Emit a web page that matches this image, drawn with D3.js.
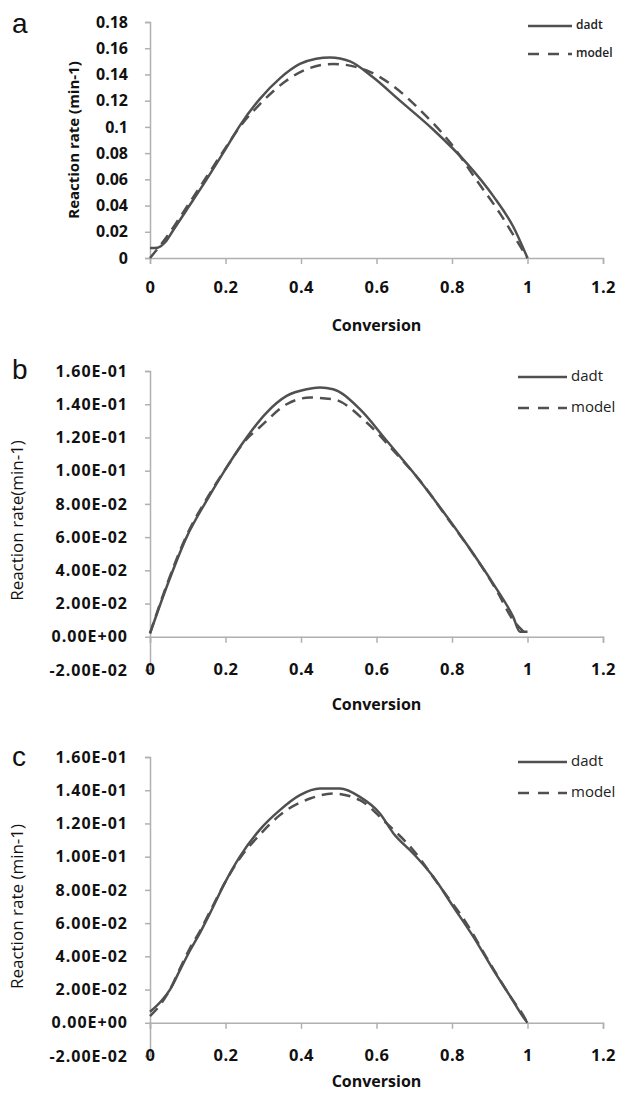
<!DOCTYPE html>
<html>
<head>
<meta charset="utf-8">
<script src="https://cdn.jsdelivr.net/npm/d3@7"></script>
<style>
  body { margin: 0; background: #fff; }
  svg { display: block; }
</style>
</head>
<body>
<div id="chart"></div>
<script>
// conversion values (x) and reaction rates (y)
var convA_dadt = [0, 0.02, 0.04, 0.061, 0.1, 0.15, 0.2, 0.238, 0.29, 0.344, 0.397, 0.44, 0.477, 0.53, 0.59, 0.662, 0.75, 0.84, 0.91, 0.962, 1.0];
var rateA_dadt = [0.0076, 0.0079, 0.012, 0.021, 0.038, 0.060, 0.083, 0.101, 0.121, 0.137, 0.148, 0.152, 0.153, 0.150, 0.138, 0.120, 0.098, 0.072, 0.047, 0.024, 0.0];
var convA_model = [0, 0.02, 0.044, 0.07, 0.1, 0.15, 0.2, 0.238, 0.29, 0.36, 0.415, 0.486, 0.574, 0.645, 0.715, 0.795, 0.866, 0.927, 0.97, 1.0];
var rateA_model = [0, 0.007, 0.016, 0.027, 0.040, 0.062, 0.084, 0.100, 0.117, 0.135, 0.144, 0.148, 0.143, 0.131, 0.113, 0.088, 0.059, 0.034, 0.014, 0.0];

var convB_dadt = [0, 0.044, 0.097, 0.15, 0.203, 0.256, 0.309, 0.362, 0.415, 0.45, 0.485, 0.556, 0.627, 0.697, 0.768, 0.838, 0.909, 0.962, 0.98, 1.0];
var rateB_dadt = [0.002, 0.030, 0.060, 0.082, 0.102, 0.120, 0.135, 0.145, 0.149, 0.150, 0.149, 0.137, 0.118, 0.099, 0.078, 0.056, 0.032, 0.012, 0.003, 0.003];
var convB_model = [0, 0.044, 0.097, 0.15, 0.203, 0.256, 0.29, 0.362, 0.424, 0.485, 0.574, 0.645, 0.715, 0.786, 0.856, 0.918, 0.962, 0.99];
var rateB_model = [0.002, 0.031, 0.061, 0.083, 0.102, 0.119, 0.126, 0.140, 0.144, 0.143, 0.129, 0.112, 0.094, 0.072, 0.050, 0.028, 0.010, 0.003];

var convC_dadt = [0, 0.031, 0.053, 0.08, 0.106, 0.132, 0.159, 0.2, 0.238, 0.29, 0.344, 0.397, 0.45, 0.503, 0.556, 0.609, 0.645, 0.697, 0.75, 0.803, 0.856, 0.909, 0.954, 0.99, 1.0];
var rateC_dadt = [0.0066, 0.0134, 0.020, 0.032, 0.0435, 0.054, 0.066, 0.085, 0.100, 0.116, 0.128, 0.137, 0.141, 0.141, 0.136, 0.126, 0.114, 0.102, 0.088, 0.070, 0.052, 0.032, 0.016, 0.003, 0.0];
var convC_model = [0, 0.031, 0.053, 0.08, 0.106, 0.132, 0.159, 0.2, 0.238, 0.29, 0.344, 0.424, 0.486, 0.556, 0.627, 0.697, 0.768, 0.838, 0.9, 0.954, 0.99, 1.0];
var rateC_model = [0.004, 0.012, 0.020, 0.033, 0.045, 0.055, 0.067, 0.085, 0.099, 0.113, 0.125, 0.135, 0.138, 0.134, 0.120, 0.104, 0.082, 0.060, 0.036, 0.016, 0.004, 0.0];

var xTicks = [0, 0.2, 0.4, 0.6, 0.8, 1, 1.2];
var yTicksA = [0, 0.02, 0.04, 0.06, 0.08, 0.1, 0.12, 0.14, 0.16, 0.18];
var yTicksBC = [-0.02, 0, 0.02, 0.04, 0.06, 0.08, 0.1, 0.12, 0.14, 0.16];
var seriesNames = ["dadt", "model"];

var width = 619;
var height = 1100;
var lineColor = "#505050";
var axisColor = "#b0b0b0";
var font = "'Open Sans', sans-serif";

var svg = d3.select("#chart").append("svg")
    .attr("width", width)
    .attr("height", height);

var zip = function (xs, ys) {
    return xs.map(function (x, i) { return [x, ys[i]]; });
};

var sciFormat = function (d) {
    return d3.format(".2e")(d).replace("e", "E").replace(/E([+-])(\d)$/, "E$10$2").replace("−", "-");
};

var panels = [
    {
        letter: "a", letterY: 33, top: 22, bottom: 258, yDomain: [0, 0.18], yTicks: yTicksA,
        yFormat: function (d) { return String(+d.toFixed(2)); }, ySpacing: 0,
        yTitle: "Reaction rate (min-1)", yTitleX: 75, yTitleBold: true, yTitleSize: 15,
        xLabelDy: 32, xTitleY: 327, legendY: 26, legendSmall: true,
        dadt: zip(convA_dadt, rateA_dadt), model: zip(convA_model, rateA_model)
    },
    {
        letter: "b", letterY: 379, top: 371, bottom: 670, yDomain: [-0.02, 0.16], yTicks: yTicksBC,
        yFormat: sciFormat, ySpacing: 1,
        yTitle: "Reaction rate(min-1)", yTitleX: 18, yTitleBold: false, yTitleSize: 17,
        xLabelDy: 36, xTitleY: 706, legendY: 377, legendSmall: false,
        dadt: zip(convB_dadt, rateB_dadt), model: zip(convB_model, rateB_model)
    },
    {
        letter: "c", letterY: 766, top: 757, bottom: 1056, yDomain: [-0.02, 0.16], yTicks: yTicksBC,
        yFormat: sciFormat, ySpacing: 1,
        yTitle: "Reaction rate (min-1)", yTitleX: 18, yTitleBold: false, yTitleSize: 17,
        xLabelDy: 36, xTitleY: 1083, legendY: 762, legendSmall: false,
        dadt: zip(convC_dadt, rateC_dadt), model: zip(convC_model, rateC_model)
    }
];

panels.forEach(function (p) {
    var g = svg.append("g");
    var x = d3.scaleLinear().domain([0, 1.2]).range([150, 603]);
    var y = d3.scaleLinear().domain(p.yDomain).range([p.bottom, p.top]);
    var y0 = y(0);

    // y axis (ticks on the left)
    var yAxis = g.append("g")
        .attr("transform", "translate(" + x(0) + ",0)")
        .call(d3.axisLeft(y).tickValues(p.yTicks).tickSize(5).tickPadding(17).tickFormat(p.yFormat));
    yAxis.select(".domain").attr("stroke", axisColor).attr("stroke-width", 1.5);
    yAxis.selectAll(".tick line").attr("stroke", axisColor).attr("stroke-width", 1.5);
    yAxis.selectAll(".tick text")
        .attr("font-family", font).attr("font-weight", "bold").attr("font-size", 16)
        .attr("letter-spacing", p.ySpacing).attr("fill", "#111");

    // x axis crossing at y = 0
    var xAxis = g.append("g")
        .attr("transform", "translate(0," + y0 + ")")
        .call(d3.axisBottom(x).tickValues(xTicks).tickSize(6).tickPadding(p.xLabelDy - 15).tickFormat(d3.format("")));
    xAxis.select(".domain").attr("stroke", axisColor).attr("stroke-width", 1.5);
    xAxis.selectAll(".tick line").attr("stroke", axisColor).attr("stroke-width", 1.5);
    xAxis.selectAll(".tick text")
        .attr("font-family", font).attr("font-weight", "bold").attr("font-size", 16.5)
        .attr("letter-spacing", 0.5).attr("fill", "#111");

    // curves
    var line = d3.line()
        .x(function (d) { return x(d[0]); })
        .y(function (d) { return y(d[1]); })
        .curve(d3.curveMonotoneX);
    g.append("path").datum(p.dadt)
        .attr("d", line).attr("fill", "none")
        .attr("stroke", lineColor).attr("stroke-width", 2.5);
    g.append("path").datum(p.model)
        .attr("d", line).attr("fill", "none")
        .attr("stroke", lineColor).attr("stroke-width", 2.5)
        .attr("stroke-dasharray", "11,7");

    // titles
    g.append("text")
        .attr("x", x(0.6)).attr("y", p.xTitleY)
        .attr("text-anchor", "middle").attr("dominant-baseline", "middle")
        .attr("font-family", font).attr("font-weight", "bold").attr("font-size", 16).attr("fill", "#111")
        .text("Conversion");
    g.append("text")
        .attr("transform", "translate(" + p.yTitleX + "," + (p.top + p.bottom) / 2 + ") rotate(-90)")
        .attr("text-anchor", "middle").attr("dominant-baseline", "middle")
        .attr("font-family", font).attr("font-weight", p.yTitleBold ? "bold" : "normal")
        .attr("font-size", p.yTitleSize).attr("fill", "#111")
        .text(p.yTitle);
    g.append("text")
        .attr("x", 12).attr("y", p.letterY)
        .attr("font-family", "'Liberation Sans', Arial, sans-serif").attr("font-size", 28).attr("fill", "#111")
        .text(p.letter);

    // legend
    var lx0 = p.legendSmall ? 528 : 518;
    var lx1 = p.legendSmall ? 572 : 567;
    var legend = g.selectAll(".legend").data(seriesNames).enter().append("g")
        .attr("transform", function (d, i) { return "translate(0," + (p.legendY + i * (p.legendSmall ? 28 : 31)) + ")"; });
    legend.append("line")
        .attr("x1", lx0).attr("x2", lx1)
        .attr("stroke", lineColor).attr("stroke-width", 2.5)
        .attr("stroke-dasharray", function (d) { return d === "model" ? "11,9" : null; });
    legend.append("text")
        .attr("x", lx1 + 4).attr("dominant-baseline", "middle")
        .attr("font-family", font)
        .attr("font-weight", p.legendSmall ? "600" : "normal")
        .attr("font-size", p.legendSmall ? 12 : 15).attr("fill", "#222")
        .text(function (d) { return d; });
});
</script>
</body>
</html>
